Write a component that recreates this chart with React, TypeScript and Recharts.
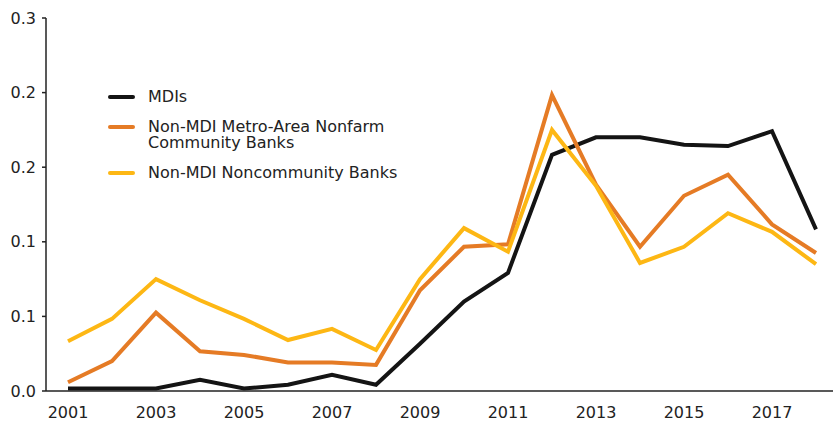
import React from 'react';
import { LineChart, Line, XAxis, YAxis, Legend } from 'recharts';

const years = [2001, 2002, 2003, 2004, 2005, 2006, 2007, 2008, 2009, 2010, 2011, 2012, 2013, 2014, 2015, 2016, 2017, 2018];
const mdis = [0.002, 0.002, 0.002, 0.009, 0.002, 0.005, 0.013, 0.005, 0.038, 0.072, 0.095, 0.19, 0.204, 0.204, 0.198, 0.197, 0.209, 0.13];
const metroNonfarm = [0.007, 0.024, 0.063, 0.032, 0.029, 0.023, 0.023, 0.021, 0.081, 0.116, 0.118, 0.238, 0.166, 0.116, 0.157, 0.174, 0.134, 0.111];
const noncommunity = [0.04, 0.058, 0.09, 0.073, 0.058, 0.041, 0.05, 0.033, 0.09, 0.131, 0.112, 0.21, 0.165, 0.103, 0.116, 0.143, 0.128, 0.102];

const yTicks = [0, 0.06, 0.12, 0.18, 0.24, 0.3];
const yearLabels = [2001, 2003, 2005, 2007, 2009, 2011, 2013, 2015, 2017];
// boundaries between years, where the small tick marks sit
const yearBounds = [2000.5, 2001.5, 2002.5, 2003.5, 2004.5, 2005.5, 2006.5, 2007.5, 2008.5, 2009.5, 2010.5, 2011.5, 2012.5, 2013.5, 2014.5, 2015.5, 2016.5, 2017.5, 2018.5];

const series = [
  { key: 'mdis', name: 'MDIs', color: '#141414', values: mdis },
  { key: 'metro', name: 'Non-MDI Metro-Area Nonfarm\nCommunity Banks', color: '#e57b25', values: metroNonfarm },
  { key: 'noncomm', name: 'Non-MDI Noncommunity Banks', color: '#fdb714', values: noncommunity },
];

const data = years.map((year, i) => ({
  year,
  mdis: mdis[i],
  metro: metroNonfarm[i],
  noncomm: noncommunity[i],
}));

const FONT = '"DejaVu Sans", sans-serif';

const LegendBox = ({ payload }: any) => (
  <div style={{ fontFamily: FONT, fontSize: 16, color: '#222' }}>
    {(payload || []).map((p: any) => (
      <div key={p.value} style={{ display: 'flex', alignItems: 'flex-start', marginBottom: 13.5 }}>
        <span
          style={{
            display: 'inline-block',
            width: 27,
            height: 4,
            borderRadius: 2,
            background: p.color,
            marginTop: 6.25,
            marginRight: 13,
          }}
        />
        <span style={{ lineHeight: '16.5px', whiteSpace: 'pre-line' }}>{p.value}</span>
      </div>
    ))}
  </div>
);

const App = () => {
  return (
    <div style={{ position: 'absolute', left: 0, top: 0, width: 833, height: 423, overflow: 'hidden', background: '#fff' }}>
      <LineChart width={840} height={423} data={data} margin={{ top: 18, right: 2, left: 0, bottom: 0 }}>
        <XAxis
          xAxisId="bounds"
          dataKey="year"
          type="number"
          domain={[2000.5, 2018.5]}
          ticks={yearBounds}
          tick={false}
          tickSize={5}
          height={6}
          axisLine={{ stroke: '#222', strokeWidth: 1.5 }}
          tickLine={{ stroke: '#222', strokeWidth: 1.5 }}
        />
        <XAxis
          xAxisId="labels"
          dataKey="year"
          type="number"
          domain={[2000.5, 2018.5]}
          ticks={yearLabels}
          axisLine={false}
          tickLine={false}
          tickSize={0}
          tickMargin={10}
          height={26}
          tick={{ fontSize: 16, fill: '#222', fontFamily: FONT }}
        />
        <YAxis
          domain={[0, 0.3]}
          ticks={yTicks}
          tickFormatter={(v: number) => v.toFixed(1)}
          width={46}
          tickSize={4}
          tickMargin={6}
          axisLine={{ stroke: '#222', strokeWidth: 1.5 }}
          tickLine={{ stroke: '#222', strokeWidth: 1.5 }}
          tick={{ fontSize: 16, fill: '#222', fontFamily: FONT }}
        />
        <Legend
          layout="vertical"
          align="center"
          verticalAlign="middle"
          wrapperStyle={{ left: 108, top: 88.5, width: 320 }}
          content={<LegendBox />}
        />
        {series.map((s) => (
          <Line
            key={s.key}
            xAxisId="bounds"
            dataKey={s.key}
            name={s.name}
            stroke={s.color}
            strokeWidth={4}
            dot={false}
            type="linear"
            isAnimationActive={false}
          />
        ))}
      </LineChart>
    </div>
  );
};

export default App;
